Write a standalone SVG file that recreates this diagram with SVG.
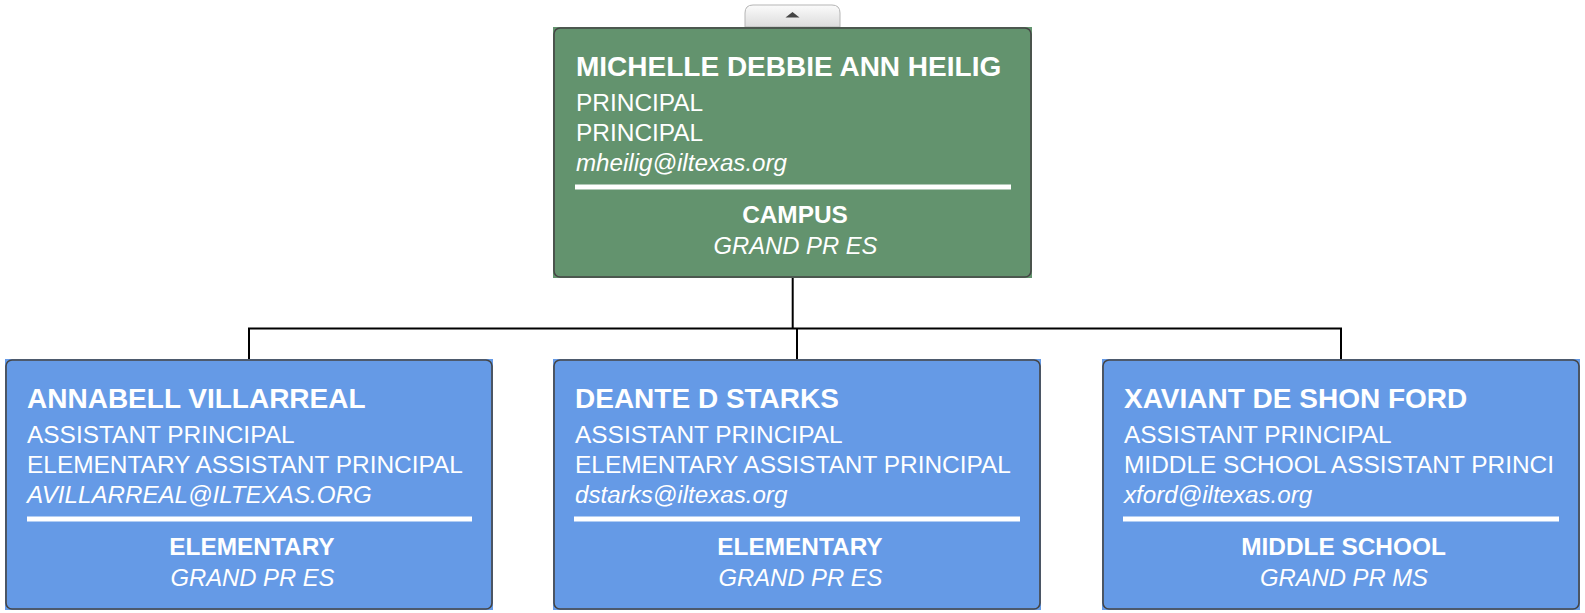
<svg xmlns="http://www.w3.org/2000/svg" width="1585" height="613" viewBox="0 0 1585 613">
<defs>
<linearGradient id="tabg" x1="0" y1="0" x2="0" y2="1">
<stop offset="0" stop-color="#fbfbfb"/>
<stop offset="1" stop-color="#dcdcdc"/>
</linearGradient>
</defs>
<style>
.t{font-family:"Liberation Sans",Arial,sans-serif;fill:#fff;}
.nm{font-size:28px;font-weight:bold;}
.rg{font-size:24.45px;}
.it{font-size:24.15px;font-style:italic;}
.dp{font-size:24.4px;font-weight:bold;text-anchor:middle;}
.lc{font-size:23.8px;font-style:italic;text-anchor:middle;}
.bd{fill:none;stroke:#454545;stroke-width:1.6;}
.sep{fill:#fff;}
.green{fill:#63936E;}
.blue{fill:#659AE6;}
.cn{fill:none;stroke:#000;stroke-width:2;}
</style>
<g id="tab">
<path d="M745,27 L745,13 Q745,5 753,5 L832,5 Q840,5 840,13 L840,27 Z" fill="url(#tabg)" stroke="#b5b5b5" stroke-width="1"/>
<polygon points="785.5,17.5 799.5,17.5 792.5,12" fill="#444"/>
</g>
<g id="connectors">
<line class="cn" x1="792.7" y1="278" x2="792.7" y2="328.5"/>
<line class="cn" x1="248" y1="328.5" x2="1342" y2="328.5"/>
<line class="cn" x1="249" y1="328.5" x2="249" y2="359"/>
<line class="cn" x1="797" y1="328.5" x2="797" y2="359"/>
<line class="cn" x1="1341" y1="328.5" x2="1341" y2="359"/>
</g>
<g id="node-root">
<rect class="green" x="553" y="27" width="479" height="251"/>
<rect class="bd" x="554" y="28" width="477" height="249" rx="6"/>
<text class="t nm" x="576" y="76">MICHELLE DEBBIE ANN HEILIG</text>
<text class="t rg" x="576" y="110.5">PRINCIPAL</text>
<text class="t rg" x="576" y="140.5">PRINCIPAL</text>
<text class="t it" x="576" y="170.5">mheilig@iltexas.org</text>
<rect class="sep" x="575" y="184.5" width="436" height="5"/>
<text class="t dp" x="795" y="223">CAMPUS</text>
<text class="t lc" x="795.5" y="253.5">GRAND PR ES</text>
</g>
<g id="node-villarreal">
<rect class="blue" x="5" y="359" width="488" height="251"/>
<rect class="bd" x="6" y="360" width="486" height="249" rx="6"/>
<text class="t nm" x="27" y="408">ANNABELL VILLARREAL</text>
<text class="t rg" x="27" y="442.5">ASSISTANT PRINCIPAL</text>
<text class="t rg" x="27" y="472.5">ELEMENTARY ASSISTANT PRINCIPAL</text>
<text class="t it" x="27" y="502.5">AVILLARREAL@ILTEXAS.ORG</text>
<rect class="sep" x="27" y="516.5" width="445" height="5"/>
<text class="t dp" x="252" y="555">ELEMENTARY</text>
<text class="t lc" x="252.5" y="585.5">GRAND PR ES</text>
</g>
<g id="node-starks">
<rect class="blue" x="553" y="359" width="488" height="251"/>
<rect class="bd" x="554" y="360" width="486" height="249" rx="6"/>
<text class="t nm" x="575" y="408">DEANTE D STARKS</text>
<text class="t rg" x="575" y="442.5">ASSISTANT PRINCIPAL</text>
<text class="t rg" x="575" y="472.5">ELEMENTARY ASSISTANT PRINCIPAL</text>
<text class="t it" x="575" y="502.5">dstarks@iltexas.org</text>
<rect class="sep" x="574" y="516.5" width="446" height="5"/>
<text class="t dp" x="800" y="555">ELEMENTARY</text>
<text class="t lc" x="800.5" y="585.5">GRAND PR ES</text>
</g>
<g id="node-ford">
<rect class="blue" x="1102" y="359" width="478" height="251"/>
<rect class="bd" x="1103" y="360" width="476" height="249" rx="6"/>
<text class="t nm" x="1124" y="408">XAVIANT DE SHON FORD</text>
<text class="t rg" x="1124" y="442.5">ASSISTANT PRINCIPAL</text>
<text class="t rg" x="1124" y="472.5">MIDDLE SCHOOL ASSISTANT PRINCI</text>
<text class="t it" x="1124" y="502.5">xford@iltexas.org</text>
<rect class="sep" x="1123" y="516.5" width="436" height="5"/>
<text class="t dp" x="1343.5" y="555">MIDDLE SCHOOL</text>
<text class="t lc" x="1344" y="585.5">GRAND PR MS</text>
</g>
</svg>
